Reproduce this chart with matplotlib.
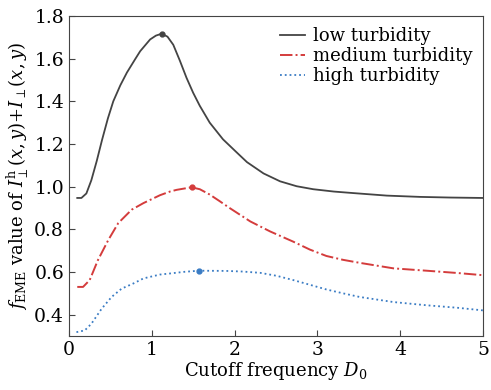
import numpy as np
import matplotlib.pyplot as plt

plt.rcParams["font.family"] = "DejaVu Serif"
plt.rcParams["mathtext.fontset"] = "dejavuserif"

# values
low_x = [0.10, 0.15, 0.21, 0.27, 0.335, 0.40, 0.47, 0.535, 0.62, 0.70, 0.80,
         0.86, 0.98, 1.05, 1.12, 1.19, 1.26, 1.34, 1.42, 1.50, 1.58, 1.70, 1.86,
         2.03, 2.15, 2.35, 2.55, 2.75, 2.95, 3.20, 3.43, 3.84, 4.24, 4.60, 5.0]
low_y = [0.947, 0.947, 0.968, 1.030, 1.120, 1.220, 1.320, 1.400, 1.475, 1.535,
         1.598, 1.635, 1.690, 1.708, 1.717, 1.703, 1.665, 1.590, 1.510, 1.440,
         1.379, 1.300, 1.222, 1.159, 1.115, 1.062, 1.025, 1.002, 0.988, 0.977,
         0.970, 0.958, 0.952, 0.949, 0.947]

med_x = [0.10, 0.17, 0.25, 0.35, 0.475, 0.595, 0.757, 0.90, 1.10, 1.22, 1.30, 1.48,
         1.58, 1.70, 1.82, 1.94, 2.19, 2.43, 2.71, 2.91, 3.11, 3.31, 3.51, 3.92,
         4.32, 4.70, 5.0]
med_y = [0.53, 0.53, 0.562, 0.656, 0.75, 0.829, 0.892, 0.923, 0.960, 0.977, 0.985,
         0.997, 0.988, 0.963, 0.932, 0.90, 0.837, 0.79, 0.742, 0.705, 0.675,
         0.657, 0.643, 0.617, 0.606, 0.595, 0.585]

high_x = [0.09, 0.19, 0.27, 0.395, 0.515, 0.636, 0.777, 0.90, 1.10, 1.22, 1.40,
          1.57, 1.90, 2.10, 2.31, 2.51, 2.71, 2.91, 3.11, 3.31, 3.51, 3.92, 4.32,
          4.70, 5.0]
high_y = [0.318, 0.326, 0.357, 0.428, 0.483, 0.522, 0.546, 0.570, 0.588, 0.593,
          0.601, 0.606, 0.605, 0.602, 0.596, 0.582, 0.562, 0.540, 0.518, 0.500,
          0.483, 0.459, 0.444, 0.432, 0.42]

peak_x = [1.12, 1.48, 1.57]
peak_y = [1.717, 0.997, 0.606]

x_ticks = [0, 1, 2, 3, 4, 5]
y_ticks = [0.4, 0.6, 0.8, 1.0, 1.2, 1.4, 1.6, 1.8]

fig = plt.figure(figsize=(4.91, 3.90), dpi=100)
ax = fig.add_axes([0.1405, 0.1385, 0.843, 0.8205])

c_low, c_med, c_high = "#444444", "#d43c3c", "#3a7cc4"

ax.plot(low_x, low_y, color=c_low, lw=1.3, label="low turbidity")
ax.plot(med_x, med_y, color=c_med, lw=1.4, ls="-.", label="medium turbidity")
ax.plot(high_x, high_y, color=c_high, lw=1.3, ls=":", label="high turbidity")
for px, py, c in zip(peak_x, peak_y, [c_low, c_med, c_high]):
    ax.plot(px, py, "o", color=c, ms=3.5)

ax.set_xlim(0, 5)
ax.set_ylim(0.3, 1.8)
ax.set_xticks(x_ticks)
ax.set_yticks(y_ticks)
ax.set_yticklabels([f"{v:.1f}" for v in y_ticks])
ax.tick_params(direction="in", labelsize=13.5, length=4, color="#444444")
for s in ax.spines.values():
    s.set_color("#444444")

ax.set_xlabel(r"Cutoff frequency $D_0$", fontsize=13, labelpad=1)
ax.set_ylabel(r"$f_{\rm EME}$ value of $I_{\perp}^{\rm h}(x,y)$+$I_{\perp}(x,y)$",
              fontsize=13, labelpad=2)

ax.legend(loc="upper right", frameon=False, fontsize=13, handlelength=1.4,
          handletextpad=0.4, labelspacing=0.12, borderaxespad=0.2)

fig.savefig("out.png", dpi=100)
